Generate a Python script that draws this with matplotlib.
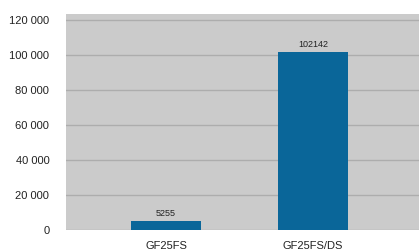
import matplotlib.pyplot as plt
from matplotlib import font_manager

categories = ["GF25FS", "GF25FS/DS"]
values = [5255, 102142]
yticks = [0, 20000, 40000, 60000, 80000, 100000, 120000]
ytick_labels = ["0", "20 000", "40 000", "60 000", "80 000", "100 000", "120 000"]

names = {f.name for f in font_manager.fontManager.ttflist}
family = "Liberation Sans Narrow" if "Liberation Sans Narrow" in names else "Liberation Sans"
plt.rcParams["font.family"] = [family, "DejaVu Sans"]

fig = plt.figure(figsize=(4.19, 2.5), dpi=100)
ax = fig.add_axes([66 / 419, 1 - 230 / 250, 353 / 419, 216 / 250])
ax.set_facecolor("#cbcbcb")

x = range(len(categories))
bars = ax.bar(x, values, width=0.476, color="#0a6699", zorder=3)
for b, v in zip(bars, values):
    ax.text(b.get_x() + b.get_width() / 2, v + 1800, str(v), ha="center", va="bottom",
            fontsize=6.5, color="#222222", zorder=4)

ax.set_xlim(-0.68, 1.72)
ax.set_ylim(0, 123700)
ax.set_yticks(yticks)
ax.set_yticklabels(ytick_labels)
ax.set_xticks(list(x))
ax.set_xticklabels(categories)
ax.yaxis.grid(True, color="#adadad", linewidth=1, zorder=0)
ax.tick_params(axis="y", length=0, pad=12, labelsize=8, colors="#222222")
ax.tick_params(axis="x", length=0, pad=8, labelsize=8, colors="#222222")
for s in ax.spines.values():
    s.set_visible(False)

fig.savefig("out.png", dpi=100)
